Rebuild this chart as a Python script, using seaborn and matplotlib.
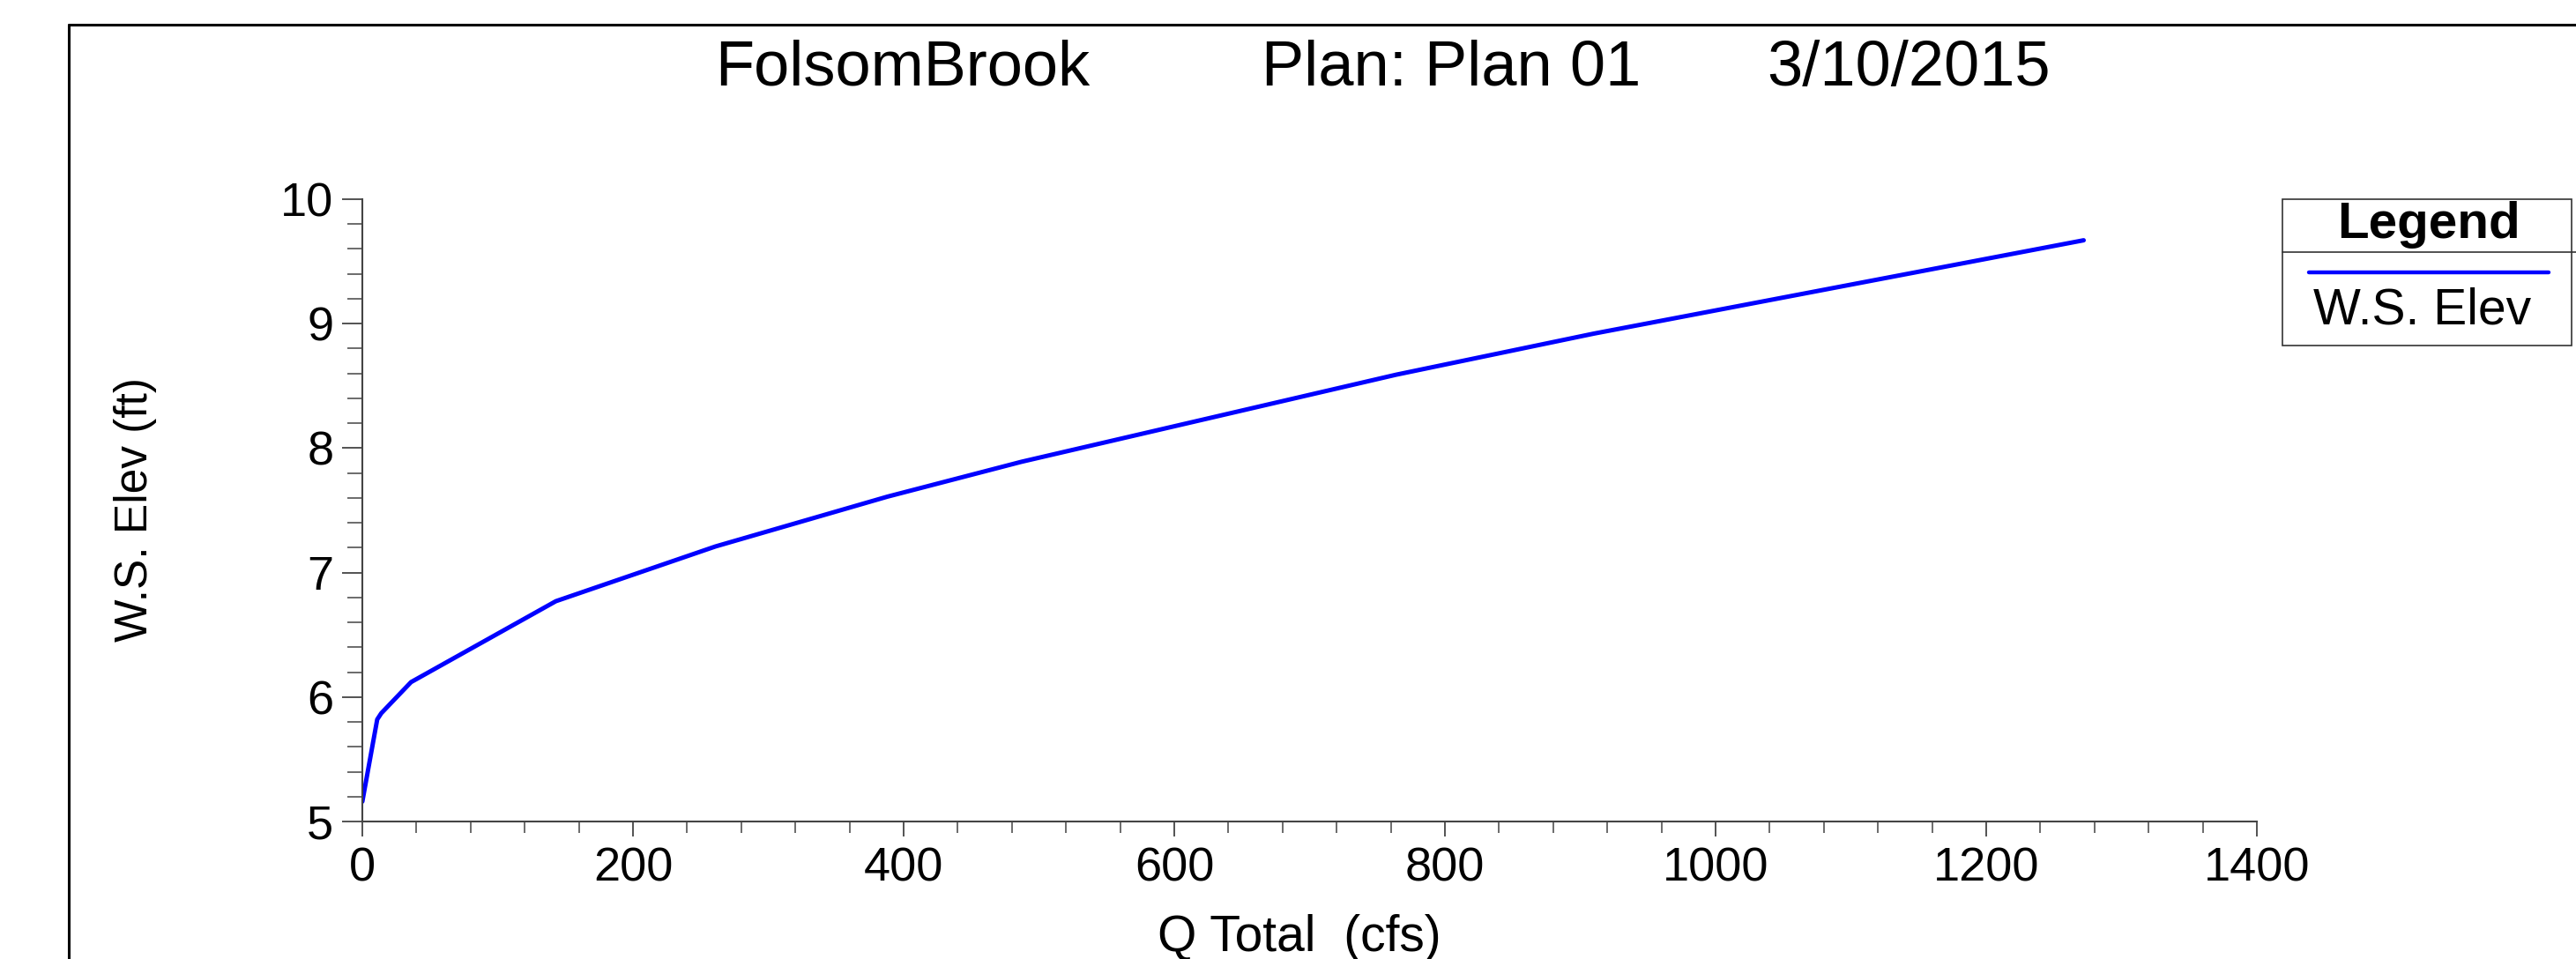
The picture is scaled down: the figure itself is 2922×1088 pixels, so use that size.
import matplotlib.pyplot as plt
from matplotlib.lines import Line2D
from matplotlib.patches import Rectangle
from matplotlib.ticker import MultipleLocator
import pandas as pd
import seaborn as sns

# rating curve
q_total = [0, 11, 14, 36, 143, 261, 388, 487, 764, 910, 1272]
ws_elev = [5.16, 5.82, 5.87, 6.12, 6.77, 7.21, 7.61, 7.89, 8.59, 8.92, 9.67]

title_parts = ['FolsomBrook', 'Plan: Plan 01', '3/10/2015']
x_label = 'Q Total  (cfs)'
y_label = 'W.S. Elev (ft)'
series_name = 'W.S. Elev'

W, H = 2922, 1088


def fx(px):
    return px / W


def fy(py):
    return 1 - py / H


def main():
    sns.set_style('white', {'text.color': 'black', 'xtick.color': 'black',
                            'ytick.color': 'black'})
    plt.rcParams['font.family'] = ['Liberation Sans', 'DejaVu Sans']

    fig = plt.figure(figsize=(W / 100, H / 100), dpi=100)
    ax = fig.add_axes([fx(411), fy(932), fx(2560) - fx(411), fy(226) - fy(932)])

    df = pd.DataFrame({'q': q_total, 'elev': ws_elev})
    sns.lineplot(data=df, x='q', y='elev', sort=False, estimator=None,
                 color='#0000ff', lw=3.6, ax=ax)

    ax.set_xlim(0, 1400)
    ax.set_ylim(5, 10)
    ax.xaxis.set_major_locator(MultipleLocator(200))
    ax.xaxis.set_minor_locator(MultipleLocator(40))
    ax.yaxis.set_major_locator(MultipleLocator(1))
    ax.yaxis.set_minor_locator(MultipleLocator(0.2))

    for side in ['top', 'right']:
        ax.spines[side].set_visible(False)
    for side in ['left', 'bottom']:
        ax.spines[side].set_color('#444444')
        ax.spines[side].set_linewidth(1.5)

    ax.tick_params(axis='y', which='major', direction='out', length=16.5, width=1.3,
                   color='#444444', labelcolor='black', labelsize=39, pad=7, left=True)
    ax.tick_params(axis='y', which='minor', direction='out', length=12, width=1.1,
                   color='#444444', left=True)
    ax.tick_params(axis='x', which='major', direction='out', length=12.5, width=1.3,
                   color='#444444', labelcolor='black', labelsize=39, pad=8, bottom=True)
    ax.tick_params(axis='x', which='minor', direction='out', length=9.5, width=1.1,
                   color='#444444', bottom=True)
    ax.set_xlabel('')
    ax.set_ylabel('')

    fig.text(fx(1474), fy(1064), x_label, ha='center', va='center', fontsize=41,
             color='black')
    fig.text(fx(153), fy(578), y_label, ha='center', va='center', fontsize=37,
             rotation=90, color='black')

    # title pieces, spaced like the original header
    for cx, part in zip([1024, 1646, 2165], title_parts):
        fig.text(fx(cx), fy(78), part, ha='center', va='center', fontsize=52,
                 color='black')

    # page frame, runs off the right and bottom edge
    fig.add_artist(Line2D([fx(78), 1], [fy(28), fy(28)], transform=fig.transFigure,
                          color='black', lw=2.2))
    fig.add_artist(Line2D([fx(78), fx(78)], [0, fy(28)], transform=fig.transFigure,
                          color='black', lw=2.2))

    # legend box
    fig.add_artist(Rectangle((fx(2589), fy(392)), fx(2917) - fx(2589), fy(226) - fy(392),
                             transform=fig.transFigure, fill=False,
                             edgecolor='#333333', lw=1.2))
    fig.add_artist(Line2D([fx(2589), 1], [fy(286), fy(286)], transform=fig.transFigure,
                          color='#333333', lw=1.2))
    fig.text(fx(2755), fy(255), 'Legend', ha='center', va='center', fontsize=42,
             fontweight='bold', color='black')
    fig.add_artist(Line2D([fx(2619), fx(2891)], [fy(309), fy(309)],
                          transform=fig.transFigure, color='#0000ff', lw=3.2))
    fig.text(fx(2624), fy(352), series_name, ha='left', va='center', fontsize=41,
             color='black')

    fig.savefig('out.png', dpi=100)


if __name__ == '__main__':
    main()
